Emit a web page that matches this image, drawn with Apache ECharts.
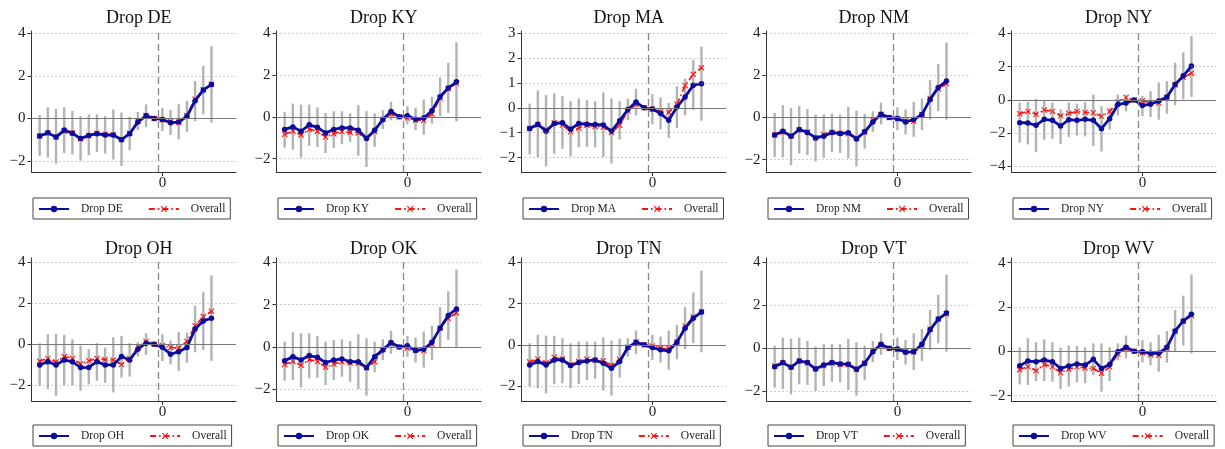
<!DOCTYPE html>
<html><head><meta charset="utf-8">
<script src="https://cdn.jsdelivr.net/npm/echarts@6/dist/echarts.min.js"></script>
<style>html,body{margin:0;padding:0;background:#fff}#c{width:1225px;height:449px}</style>
</head><body><div id="c"></div><script>
const eventTime = [-15,-14,-13,-12,-11,-10,-9,-8,-7,-6,-5,-4,-3,-2,-1,0,1,2,3,4,5,6];
const states = ['DE','KY','MA','NM','NY','OH','OK','TN','VT','WV'];
const overall = [-0.83,-0.69,-0.87,-0.6,-0.69,-0.96,-0.81,-0.7,-0.75,-0.77,-0.99,-0.7,-0.12,0.14,0,-0.06,-0.16,-0.18,0.14,0.9,1.35,1.61];

const dropDE = [-0.83,-0.68,-0.88,-0.55,-0.7,-0.95,-0.8,-0.72,-0.78,-0.78,-1.0,-0.72,-0.17,0.12,0,-0.05,-0.2,-0.17,0.1,0.83,1.33,1.6];
const hiDE = [0.16,0.52,0.45,0.52,0.35,0.11,0.19,0.19,0.11,0.42,0.28,0.08,0.3,0.66,null,0.5,0.39,0.67,0.83,1.76,2.46,3.4];
const loDE = [-1.77,-1.84,-2.12,-1.62,-1.69,-1.99,-1.73,-1.57,-1.65,-1.93,-2.24,-1.49,-0.55,-0.42,null,-0.6,-0.78,-0.99,-0.63,-0.13,0.19,-0.2];

const dropKY = [-0.6,-0.48,-0.69,-0.38,-0.5,-0.77,-0.6,-0.53,-0.53,-0.64,-1.04,-0.64,-0.13,0.26,0,0.05,-0.11,-0.06,0.29,0.96,1.38,1.68];
const hiKY = [0.24,0.64,0.59,0.59,0.45,0.19,0.27,0.27,0.16,0.56,0.27,0.16,0.32,0.72,null,0.51,0.43,0.83,0.96,1.89,2.59,3.57];
const loKY = [-1.47,-1.57,-1.95,-1.39,-1.44,-1.73,-1.49,-1.31,-1.2,-1.86,-2.4,-1.44,-0.58,-0.16,null,-0.35,-0.64,-0.85,-0.32,0.03,0.19,-0.21];

const dropMA = [-0.83,-0.66,-0.94,-0.63,-0.6,-0.86,-0.63,-0.66,-0.67,-0.69,-0.94,-0.52,-0.07,0.23,0,-0.05,-0.23,-0.5,0.03,0.44,0.91,0.97];
const hiMA = [0.17,0.7,0.51,0.58,0.47,0.27,0.38,0.31,0.27,0.62,0.38,0.27,0.36,0.77,null,0.55,0.42,0.2,0.87,1.18,1.92,2.46];
const loMA = [-1.88,-1.98,-2.35,-1.84,-1.65,-1.95,-1.59,-1.57,-1.59,-1.98,-2.24,-1.28,-0.5,-0.3,null,-0.66,-0.86,-1.21,-0.81,-0.3,-0.09,-0.52];

const dropNM = [-0.83,-0.65,-0.89,-0.57,-0.71,-0.97,-0.89,-0.71,-0.76,-0.73,-1.02,-0.68,-0.22,0.16,0,-0.05,-0.21,-0.1,0.14,0.86,1.43,1.73];
const hiNM = [0.22,0.59,0.46,0.54,0.4,0.14,0.14,0.19,0.14,0.51,0.32,0.16,0.3,0.71,null,0.48,0.38,0.75,0.9,1.78,2.54,3.56];
const loNM = [-1.87,-1.9,-2.27,-1.71,-1.79,-2.08,-1.92,-1.63,-1.68,-1.95,-2.32,-1.48,-0.68,-0.33,null,-0.6,-0.81,-0.92,-0.6,-0.1,0.3,-0.1];

const dropNY = [-1.37,-1.39,-1.53,-1.17,-1.23,-1.57,-1.19,-1.23,-1.17,-1.23,-1.73,-1.13,-0.28,-0.18,0,-0.34,-0.26,-0.06,0.18,0.93,1.45,2.04];
const hiNY = [-0.16,-0.12,0.06,-0.02,-0.16,-0.56,-0.16,-0.22,-0.12,0.32,-0.38,-0.46,0.32,0.32,null,0.24,0.52,1.05,1.13,2.24,2.86,3.85];
const loNY = [-2.58,-2.68,-3.15,-2.4,-2.34,-2.64,-2.24,-2.14,-2.2,-2.78,-3.1,-1.79,-0.93,-0.69,null,-0.97,-1.03,-1.19,-0.83,-0.32,0.04,0.18];

const dropOH = [-1.01,-0.85,-1.01,-0.77,-0.85,-1.14,-1.13,-0.85,-1.01,-1.01,-0.6,-0.77,-0.24,0.05,0,-0.15,-0.49,-0.36,-0.16,0.75,1.14,1.27];
const hiOH = [0.05,0.49,0.51,0.46,0.24,-0.07,-0.24,0.05,-0.16,0.34,0.41,0.05,0.1,0.54,null,0.49,0.18,0.59,0.57,1.89,2.54,3.36];
const loOH = [-2.04,-2.2,-2.51,-1.99,-1.99,-2.27,-1.96,-1.78,-1.88,-2.35,-1.63,-1.58,-0.6,-0.52,null,-0.82,-0.98,-1.31,-0.9,-0.39,-0.28,-0.82];

const dropOK = [-0.66,-0.46,-0.62,-0.41,-0.49,-0.74,-0.62,-0.57,-0.7,-0.7,-0.98,-0.46,-0.14,0.21,0,0.05,-0.17,-0.11,0.22,0.89,1.49,1.8];
const hiOK = [0.25,0.7,0.65,0.65,0.52,0.25,0.33,0.36,0.28,0.6,0.41,0.25,0.36,0.76,null,0.52,0.44,0.73,1.0,1.88,2.63,3.66];
const loOK = [-1.6,-1.57,-1.91,-1.49,-1.46,-1.8,-1.57,-1.41,-1.65,-1.99,-2.31,-1.2,-0.62,-0.33,null,-0.46,-0.74,-0.98,-0.62,-0.06,0.33,-0.06];

const dropTN = [-0.97,-0.81,-0.97,-0.73,-0.73,-1.0,-0.86,-0.78,-0.73,-0.89,-1.13,-0.81,-0.13,0.13,0,-0.13,-0.24,-0.29,0.13,0.81,1.29,1.59];
const hiTN = [0.08,0.49,0.45,0.44,0.32,0.08,0.16,0.16,0.16,0.36,0.21,0.29,0.32,0.7,null,0.49,0.4,0.68,0.97,1.83,2.54,3.59];
const loTN = [-2.02,-2.1,-2.35,-1.91,-1.86,-2.1,-1.91,-1.7,-1.65,-2.22,-2.46,-1.59,-0.57,-0.45,null,-0.73,-0.86,-1.21,-0.7,-0.21,0.08,-0.36];

const dropVT = [-0.86,-0.67,-0.89,-0.59,-0.67,-0.97,-0.78,-0.67,-0.73,-0.75,-0.98,-0.7,-0.16,0.19,0,-0.03,-0.19,-0.16,0.19,0.86,1.36,1.64];
const hiVT = [0.12,0.5,0.44,0.5,0.34,0.08,0.19,0.2,0.19,0.44,0.28,0.12,0.34,0.7,null,0.5,0.39,0.7,0.9,1.79,2.49,3.43];
const loVT = [-1.84,-1.9,-2.15,-1.68,-1.71,-1.99,-1.76,-1.56,-1.59,-1.95,-2.21,-1.48,-0.65,-0.31,null,-0.55,-0.75,-1.01,-0.59,-0.08,0.23,-0.16];

const dropWV = [-0.65,-0.44,-0.47,-0.39,-0.47,-0.77,-0.66,-0.57,-0.62,-0.36,-0.77,-0.59,-0.02,0.18,0,-0.02,-0.09,-0.09,0.18,0.92,1.37,1.67];
const hiWV = [0.18,0.59,0.41,0.54,0.41,0.17,0.26,0.24,0.18,0.36,0.36,0.18,0.36,0.71,null,0.51,0.41,0.74,0.92,1.86,2.51,3.47];
const loWV = [-1.49,-1.52,-1.34,-1.34,-1.37,-1.7,-1.59,-1.4,-1.44,-1.07,-1.82,-1.34,-0.39,-0.32,null,-0.5,-0.62,-0.92,-0.51,-0.02,0.26,-0.09];

const ticksDefault = [-2, 0, 2, 4];
const ticksMA = [-2, -1, 0, 1, 2, 3];
const ticksNY = [-4, -2, 0, 2, 4];
const panelTicks = [ticksDefault, ticksDefault, ticksMA, ticksDefault, ticksNY, ticksDefault, ticksDefault, ticksDefault, ticksDefault, ticksDefault];
const yMinList = [-2.52, -2.64, -2.58, -2.59, -4.34, -2.77, -2.56, -2.72, -2.46, -2.24];
const yMaxList = [4.11, 4.11, 3.09, 4.11, 4.15, 4.21, 4.21, 4.21, 4.21, 4.21];
const xTicks = [0];
const eventLine = -0.5;

const dropData = {DE:dropDE, KY:dropKY, MA:dropMA, NM:dropNM, NY:dropNY, OH:dropOH, OK:dropOK, TN:dropTN, VT:dropVT, WV:dropWV};
const hiData = {DE:hiDE, KY:hiKY, MA:hiMA, NM:hiNM, NY:hiNY, OH:hiOH, OK:hiOK, TN:hiTN, VT:hiVT, WV:hiWV};
const loData = {DE:loDE, KY:loKY, MA:loMA, NM:loNM, NY:loNY, OH:loOH, OK:loOK, TN:loTN, VT:loVT, WV:loWV};

const FONT = 'Liberation Serif';
const NAVY = '#0c0c9e';
const RED = '#ff1010';
const xMark = 'path://M0,1.2L1.2,0L5,3.8L8.8,0L10,1.2L6.2,5L10,8.8L8.8,10L5,6.2L1.2,10L0,8.8L3.8,5Z';
const fmt = v => v < 0 ? '\u2212' + Math.abs(v) : String(v);

const chart = echarts.init(document.getElementById('c'), null, {renderer:'canvas'});
const grids = [], xAxes = [], yAxes = [], series = [], titles = [], legends = [];

states.forEach((st, i) => {
  const row = Math.floor(i / 5), col = i % 5;
  const left = 31.5 + 245 * col;
  const top = row === 0 ? 31 : 258;
  const height = row === 0 ? 141 : 143;
  const width = 204.5;
  grids.push({left: left, top: top, width: width, height: height, containLabel: false});
  xAxes.push({
    type: 'value', gridIndex: i, min: -16, max: 9,
    axisLine: {show: true, onZero: false, lineStyle: {color: '#333', width: 1}},
    axisTick: {show: true, customValues: xTicks, length: 4, lineStyle: {color: '#333'}},
    axisLabel: {show: true, customValues: xTicks, formatter: fmt, margin: 4, fontFamily: FONT, fontSize: 15, color: '#222'},
    splitLine: {show: false}
  });
  yAxes.push({
    type: 'value', gridIndex: i, min: yMinList[i], max: yMaxList[i],
    axisLine: {show: true, onZero: false, lineStyle: {color: '#333', width: 1}},
    axisTick: {show: true, customValues: panelTicks[i], length: 4, lineStyle: {color: '#333'}},
    axisLabel: {show: true, customValues: panelTicks[i], formatter: fmt, margin: 6, fontFamily: FONT, fontSize: 15, color: '#222'},
    splitLine: {show: false}
  });
  titles.push({
    text: 'Drop ' + st, left: left + width / 2, top: row === 0 ? 4 : 235, textAlign: 'center',
    textStyle: {fontFamily: FONT, fontSize: 18, fontWeight: 'normal', color: '#111'}
  });
  legends.push({
    data: ['Drop ' + st, 'Overall'],
    left: left + 1.5, top: row === 0 ? 198 : 425,
    orient: 'horizontal', itemWidth: 30, itemHeight: 8, itemGap: 25,
    padding: [5, 5, 4, 5], borderColor: '#444', borderWidth: 1, borderRadius: 0,
    selectedMode: false,
    textStyle: {fontFamily: FONT, fontSize: 11.5, color: '#222', padding: [0, 0, 0, 7]}
  });

  const drop = dropData[st], hi = hiData[st], lo = loData[st];
  const barData = [];
  eventTime.forEach((t, k) => { if (hi[k] != null && lo[k] != null) barData.push([t, lo[k], hi[k]]); });

  const gridLines = panelTicks[i].filter(v => v !== 0).map(v => ({yAxis: v, lineStyle: {type: [1, 3], color: '#999', width: 1}}));
  gridLines.push({yAxis: 0, lineStyle: {type: 'solid', color: '#777', width: 1.2}});
  gridLines.push({xAxis: eventLine, lineStyle: {type: [7, 4], color: '#888', width: 1.3}});

  series.push({
    type: 'custom', name: 'ci' + st, xAxisIndex: i, yAxisIndex: i, z: 1, silent: true,
    data: barData,
    encode: {x: 0, y: [1, 2]},
    renderItem: function (params, api) {
      const x = api.value(0), l = api.value(1), h = api.value(2);
      const p1 = api.coord([x, l]), p2 = api.coord([x, h]);
      return {type: 'line', shape: {x1: p1[0], y1: p1[1], x2: p2[0], y2: p2[1]}, style: {stroke: '#b3b3b3', lineWidth: 2.4}};
    },
    markLine: {silent: true, symbol: ['none', 'none'], label: {show: false}, data: gridLines, animation: false}
  });
  series.push({
    type: 'line', name: 'Overall', xAxisIndex: i, yAxisIndex: i, z: 2,
    data: eventTime.map((t, k) => [t, overall[k]]),
    symbol: xMark, symbolSize: 6, showSymbol: true,
    lineStyle: {color: RED, width: 1.6, type: [6, 3, 1.5, 3]},
    itemStyle: {color: RED}, animation: false
  });
  series.push({
    type: 'line', name: 'Drop ' + st, xAxisIndex: i, yAxisIndex: i, z: 3,
    data: eventTime.map((t, k) => [t, drop[k]]),
    symbol: 'circle', symbolSize: 5.5, showSymbol: true,
    lineStyle: {color: NAVY, width: 2.8},
    itemStyle: {color: NAVY}, animation: false
  });
});

chart.setOption({
  animation: false,
  backgroundColor: '#fff',
  title: titles, legend: legends, grid: grids, xAxis: xAxes, yAxis: yAxes, series: series
});
</script></body></html>
